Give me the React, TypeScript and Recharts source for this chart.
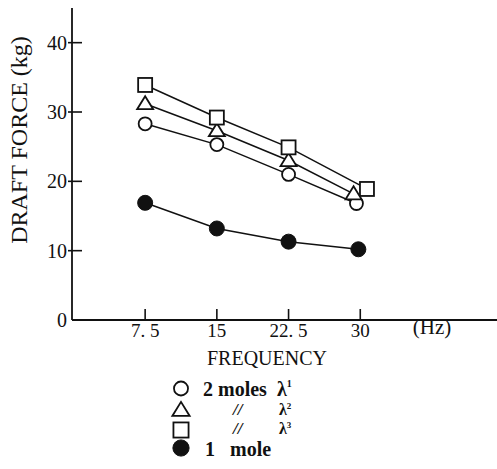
import React from "react";
import { LineChart, Line, XAxis, YAxis, Legend } from "recharts";

// ---- data ----
const freqTicks = [7.5, 15, 22.5, 30];
const freqTickLabels = ["7. 5", "15", "22. 5", "30"];
const forceTicks = [0, 10, 20, 30, 40];

const circleFreq = [7.5, 15, 22.5, 29.6];
const circleForce = [28.3, 25.3, 21.0, 16.8];

const triangleFreq = [7.5, 15, 22.5, 29.3];
const triangleForce = [31.2, 27.3, 23.0, 18.2];

const squareFreq = [7.5, 15, 22.5, 30.7];
const squareForce = [33.9, 29.2, 24.9, 18.9];

const filledFreq = [7.5, 15, 22.5, 29.8];
const filledForce = [16.9, 13.2, 11.3, 10.2];

const seriesNames = ["2 moles λ¹", "〃 λ²", "〃 λ³", "1 mole"];

const toRows = (xs: number[], ys: number[]) => xs.map((f, i) => ({ f, v: ys[i] }));

const FONT = "'Liberation Serif', 'DejaVu Serif', serif";
const INK = "#111";

type Kind = "circle" | "triangle" | "square" | "filled";

const Marker = ({ kind, cx, cy, s = 1 }: { kind: Kind; cx: number; cy: number; s?: number }) => {
  if (kind === "circle")
    return <circle cx={cx} cy={cy} r={6.5 * s} fill="#fff" stroke={INK} strokeWidth={1.8} />;
  if (kind === "filled") return <circle cx={cx} cy={cy} r={7.5 * s} fill={INK} stroke={INK} />;
  if (kind === "square")
    return (
      <rect x={cx - 7 * s} y={cy - 7 * s} width={14 * s} height={14 * s} fill="#fff" stroke={INK} strokeWidth={1.8} />
    );
  const pts = `${cx},${cy - 7.5 * s} ${cx - 8 * s},${cy + 5.5 * s} ${cx + 8 * s},${cy + 5.5 * s}`;
  return <polygon points={pts} fill="#fff" stroke={INK} strokeWidth={1.8} strokeLinejoin="miter" />;
};

const dotFor = (kind: Kind) => (p: any) =>
  p.cx == null || p.cy == null ? <g key={p.index} /> : (
    <g key={p.index}>
      <Marker kind={kind} cx={p.cx} cy={p.cy} />
    </g>
  );

const XTick = (props: any) => {
  const { x, y, payload } = props;
  const i = freqTicks.indexOf(payload.value);
  return (
    <g>
      <line x1={x} x2={x} y1={y} y2={y - 11} stroke={INK} strokeWidth={1.6} />
      <text x={x} y={y + 17} textAnchor="middle" fontSize={19} fontFamily={FONT} fill={INK}>
        {freqTickLabels[i]}
      </text>
    </g>
  );
};

const YTick = (props: any) => {
  const { x, y, payload } = props;
  return (
    <g>
      {payload.value !== 0 && <line x1={x - 4} x2={x + 10} y1={y} y2={y} stroke={INK} strokeWidth={1.6} />}
      <text x={x - 5} y={y} dy="0.35em" textAnchor="end" fontSize={20} fontFamily={FONT} fill={INK}>
        {payload.value}
      </text>
    </g>
  );
};

const XLabel = (props: any) => {
  const vb = props.viewBox || { x: 72, y: 320, width: 425 };
  return (
    <g>
      <text x={267} y={vb.y + 45} textAnchor="middle" fontSize={20} fontFamily={FONT} fill={INK}>
        FREQUENCY
      </text>
      <text x={432} y={vb.y + 14} textAnchor="middle" fontSize={21} fontFamily={FONT} fill={INK}>
        (Hz)
      </text>
    </g>
  );
};

const YLabel = (props: any) => {
  const vb = props.viewBox || { x: 0, y: 8, width: 72, height: 312 };
  return (
    <text
      transform={`translate(${vb.x + 27}, 140) rotate(-90)`}
      textAnchor="middle"
      fontSize={24}
      fontFamily={FONT}
      fill={INK}
    >
      DRAFT FORCE (kg)
    </text>
  );
};

const legendKinds: Kind[] = ["circle", "triangle", "square", "filled"];

const LegendContent = () => {
  const rowY = [12.5, 34, 54, 72];
  const tx = { fontFamily: FONT, fontSize: 20, fontWeight: 700, fill: INK } as any;
  const sm = { fontFamily: FONT, fontSize: 16, fontWeight: 700, fill: INK } as any;
  return (
    <svg width={140} height={90} style={{ display: "block", overflow: "visible" }}>
      {legendKinds.map((k, i) => (
        <Marker key={k} kind={k} cx={11} cy={rowY[i]} s={1.08} />
      ))}
      <text x={33} y={20} {...tx}>2</text>
      <text x={48} y={20} {...tx}>moles</text>
      <text x={107} y={20} {...tx}>
        λ<tspan fontSize={10} dy={-9}>1</tspan>
      </text>
      <text x={63} y={39} {...sm} fontSize={17} fontStyle="italic">//</text>
      <text x={109} y={39} {...sm}>
        λ<tspan fontSize={9} dy={-6}>2</tspan>
      </text>
      <text x={63} y={58} {...sm} fontSize={17} fontStyle="italic">//</text>
      <text x={109} y={58} {...sm}>
        λ<tspan fontSize={9} dy={-6}>3</tspan>
      </text>
      <text x={35} y={80} {...tx}>1</text>
      <text x={60} y={80} {...tx}>mole</text>
    </svg>
  );
};

export default function App() {
  return (
    <div style={{ position: "absolute", left: 0, top: 0, width: 497, height: 469, background: "#fff" }}>
      <LineChart width={497} height={469} margin={{ top: 8, right: 0, bottom: 0, left: 0 }}>
        <XAxis
          dataKey="f"
          type="number"
          domain={[-0.15, 44.3]}
          ticks={freqTicks}
          allowDataOverflow
          height={149}
          tickSize={0}
          tickMargin={0}
          tick={<XTick />}
          axisLine={{ stroke: INK, strokeWidth: 1.8 }}
          tickLine={false}
          interval={0}
          label={<XLabel />}
        />
        <YAxis
          dataKey="v"
          type="number"
          domain={[0, 45]}
          ticks={forceTicks}
          allowDataOverflow
          width={72}
          tickSize={0}
          tickMargin={0}
          tick={<YTick />}
          axisLine={{ stroke: INK, strokeWidth: 1.8 }}
          tickLine={false}
          interval={0}
          label={<YLabel />}
        />
        <Line
          data={toRows(circleFreq, circleForce)}
          dataKey="v"
          name={seriesNames[0]}
          type="linear"
          stroke={INK}
          strokeWidth={1.5}
          dot={dotFor("circle")}
          isAnimationActive={false}
        />
        <Line
          data={toRows(triangleFreq, triangleForce)}
          dataKey="v"
          name={seriesNames[1]}
          type="linear"
          stroke={INK}
          strokeWidth={1.5}
          dot={dotFor("triangle")}
          isAnimationActive={false}
        />
        <Line
          data={toRows(squareFreq, squareForce)}
          dataKey="v"
          name={seriesNames[2]}
          type="linear"
          stroke={INK}
          strokeWidth={1.5}
          dot={dotFor("square")}
          isAnimationActive={false}
        />
        <Line
          data={toRows(filledFreq, filledForce)}
          dataKey="v"
          name={seriesNames[3]}
          type="linear"
          stroke={INK}
          strokeWidth={1.5}
          dot={dotFor("filled")}
          isAnimationActive={false}
        />
        <Legend
          layout="horizontal"
          verticalAlign="middle"
          align="center"
          content={<LegendContent />}
          wrapperStyle={{ left: 170, top: 376, width: 140, height: 90 }}
        />
      </LineChart>
    </div>
  );
}
